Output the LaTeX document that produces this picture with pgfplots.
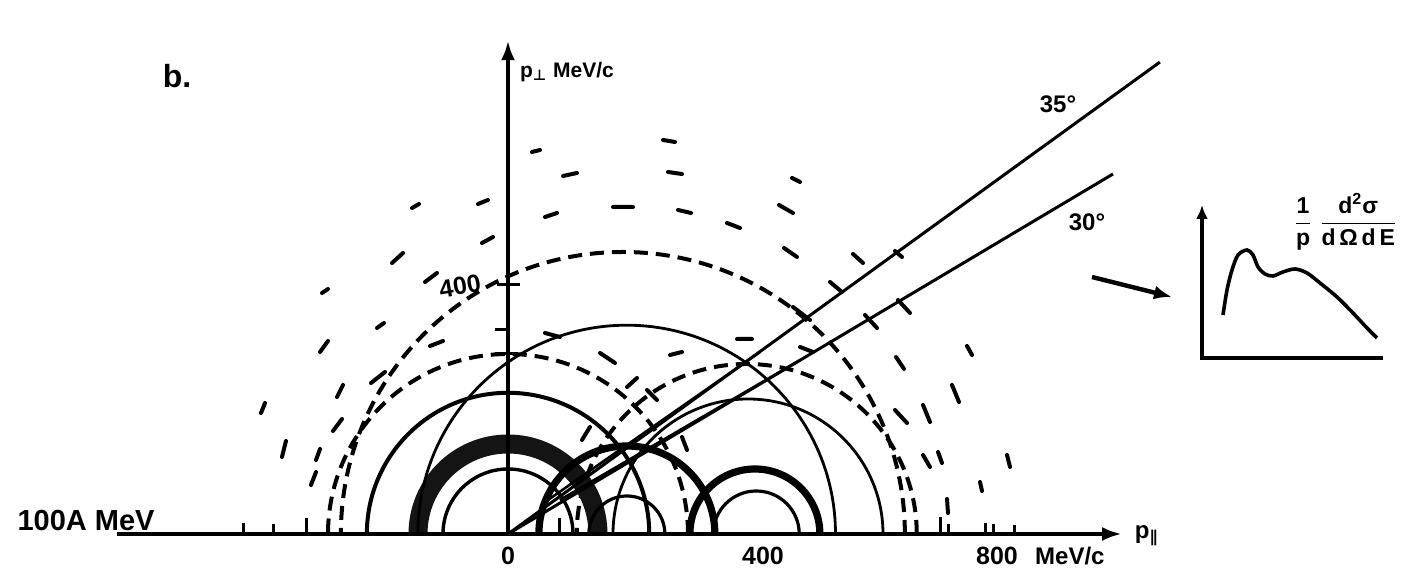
\documentclass[border=0pt]{standalone}
\usepackage{pgfplots}
\pgfplotsset{compat=1.18}
\usepackage{amsmath}
\usepackage{fontspec}
\setmainfont{Liberation Sans}
\newfontfamily\dejavu{DejaVu Sans}
\usetikzlibrary{arrows.meta}
\begin{document}
\begin{tikzpicture}
\begin{axis}[
  scale only axis, width=710.5pt, height=293.5pt,
  xmin=-812.8, xmax=1460.8, ymin=-84.8, ymax=854.4,
  axis lines=none, clip=false,
  unbounded coords=jump,
]
% --- dashed circles (centre on axis, radius): target 0/288, mid 184/451, projectile 382/272
\draw[line width=2pt, dash pattern=on 7pt off 4pt] (axis cs:288,0) arc[start angle=0,end angle=180,radius=90pt];
\draw[line width=2pt, dash pattern=on 7pt off 4pt] (axis cs:635,0) arc[start angle=0,end angle=180,radius=141pt];
\draw[line width=2pt, dash pattern=on 7pt off 4pt] (axis cs:654,0) arc[start angle=0,end angle=180,radius=85pt];
% --- target group (centre 0)
\draw[line width=1.7pt] (axis cs:104,0) arc[start angle=0,end angle=180,radius=32.5pt];
\draw[line width=9.5pt, black!92] (axis cs:144,0) arc[start angle=0,end angle=180,radius=45pt];
\draw[line width=2pt] (axis cs:226,0) arc[start angle=0,end angle=180,radius=70.6pt];
% --- middle group (centre 190)
\draw[line width=1.6pt] (axis cs:251,0) arc[start angle=0,end angle=180,radius=19pt];
\draw[line width=3.6pt] (axis cs:331,0) arc[start angle=0,end angle=180,radius=44pt];
\draw[line width=1.4pt] (axis cs:524,0) arc[start angle=0,end angle=180,radius=104.4pt];
% --- projectile group (centre ~390)
\draw[line width=1.6pt] (axis cs:466,0) arc[start angle=0,end angle=180,radius=21.5pt];
\draw[line width=3.6pt] (axis cs:499,0) arc[start angle=0,end angle=180,radius=32.5pt];
\draw[line width=1.4pt] (axis cs:600,0) arc[start angle=0,end angle=180,radius=67.5pt];
% --- angle lines
\addplot[line width=1.5pt] coordinates {(0,0) (1043,755)};
\addplot[line width=1.5pt] coordinates {(0,0) (968,576)};
\addplot[line width=1.3pt] coordinates {(64,54.4) (403,291)};
\addplot[line width=1.3pt] coordinates {(83,54.4) (467,278)};
% --- scattered dashes and marks
\addplot[line width=2pt, line cap=round] coordinates {
(38.4,611.2) (51.2,614.4) (nan,nan)
(248,630.4) (267.2,627.2) (nan,nan)
(88,572.8) (110.4,577.6) (nan,nan)
(256,579.2) (278.4,576) (nan,nan)
(454.4,569.6) (467.2,563.2) (nan,nan)
(-48,528) (-32,534.4) (nan,nan)
(168,523.2) (200,523.2) (nan,nan)
(272,518.4) (292.8,513.6) (nan,nan)
(433.6,526.4) (456,513.6) (nan,nan)
(59.2,507.2) (78.4,513.6) (nan,nan)
(350.4,497.6) (371.2,489.6) (nan,nan)
(-41.6,465.6) (-24,475.2) (nan,nan)
(441.6,457.6) (462.4,443.2) (nan,nan)
(552,448) (568,433.6) (nan,nan)
(-153.6,521.6) (-142.4,528) (nan,nan)
(-185.6,433.6) (-168,449.6) (nan,nan)
(-132.8,403.2) (-113.6,417.6) (nan,nan)
(-297.6,385.6) (-288,392) (nan,nan)
(-209.6,329.6) (-198.4,337.6) (nan,nan)
(-300.8,291.2) (-288,308.8) (nan,nan)
(-124.8,300.8) (-104,308.8) (nan,nan)
(-219.2,241.6) (-196.8,259.2) (nan,nan)
(-273.6,219.2) (-264,238.4) (nan,nan)
(-395.2,193.6) (-388.8,209.6) (nan,nan)
(-280,164.8) (-265.6,184) (nan,nan)
(-361.6,123.2) (-355.2,148.8) (nan,nan)
(-307.2,118.4) (-300.8,136) (nan,nan)
(-315.2,78.4) (-307.2,99.2) (nan,nan)
(620.8,283.2) (633.6,264) (nan,nan)
(734.4,300.8) (742.4,286.4) (nan,nan)
(710.4,238.4) (721.6,211.2) (nan,nan)
(664,206.4) (675.2,179.2) (nan,nan)
(619.2,198.4) (638.4,177.6) (nan,nan)
(664,126.4) (675.2,107.2) (nan,nan)
(688,131.2) (694.4,113.6) (nan,nan)
(798.4,126.4) (803.2,107.2) (nan,nan)
(755.2,83.2) (758.4,68.8) (nan,nan)
(702.4,56) (704,33.6) (nan,nan)
(59.2,321.6) (83.2,315.2) (nan,nan)
(147.2,289.6) (171.2,273.6) (nan,nan)
(259.2,286.4) (278.4,291.2) (nan,nan)
(366.4,312) (390.4,312) (nan,nan)
(467.2,299.2) (488,291.2) (nan,nan)
(190.4,235.2) (206.4,249.6) (nan,nan)
(222.4,230.4) (238.4,214.4) (nan,nan)
(118.4,150.4) (131.2,171.2) (nan,nan)
(278.4,155.2) (286.4,134.4) (nan,nan)
(515.2,403.2) (534.4,387.2) (nan,nan)
(619.2,452.8) (630.4,443.2) (nan,nan)
(624,374.4) (643.2,353.6) (nan,nan)
(571.2,350.4) (590.4,329.6) (nan,nan)
(456,363.2) (483.2,342.4)
};
% --- axis ticks
\addplot[line width=1.5pt] coordinates {
(-424,0) (-424,17.6) (nan,nan)
(-376,0) (-376,16) (nan,nan)
(-323.2,0) (-323.2,25.6) (nan,nan)
(81.6,0) (81.6,25.6) (nan,nan)
(691.2,0) (691.2,27.2) (nan,nan)
(704,0) (704,16) (nan,nan)
(763.2,0) (763.2,17.6) (nan,nan)
(776,0) (776,16) (nan,nan)
(809.6,0) (809.6,14.4) (nan,nan)
(-17.6,398.4) (19.2,398.4) (nan,nan)
(-20.8,326.4) (0,326.4) (nan,nan)
(-20.8,288) (11,288)
};
% --- main axes
\addplot[line width=2pt, -{Latex[length=10pt,width=7pt]}] coordinates {(-625.6,0) (982.4,0)};
\addplot[line width=2pt, -{Latex[length=10pt,width=7pt]}] coordinates {(0,0) (0,790)};
% --- arrow to inset
\addplot[line width=2.2pt, -{Latex[length=9pt,width=7pt]}] coordinates {(934.4,411.2) (1062.4,379.2)};
% --- inset
\addplot[line width=1.8pt, {Latex[length=7pt,width=6pt]}-] coordinates {(1110.4,526.4) (1110.4,281.6) (1400,281.6)};
\addplot[line width=1.8pt, smooth] coordinates {
(1144,350.4) (1150.4,390.4) (1158.4,422.4) (1168,446.4) (1182.4,454.4)
(1192,446.4) (1200,427.2) (1211.2,416) (1224,412.8) (1240,419.2)
(1259.2,424) (1278.4,417.6) (1299.2,401.6) (1326.4,379.2) (1352,353.6)
(1374.4,329.6) (1390.4,313.6)};
\node[font=\fontsize{11.5}{13}\selectfont] at (axis cs:1340,499.2)
  {$\dfrac{\textbf{1}}{\textbf{p}}\;\dfrac{\textbf{d\textsuperscript{2}σ}}{\textbf{d\,Ω\,d\,E}}$};
% --- labels
\node[font=\bfseries\fontsize{12.5}{14}\selectfont] at (axis cs:0,-35.2) {0};
\node[font=\bfseries\fontsize{12.5}{14}\selectfont] at (axis cs:408,-35.2) {400};
\node[font=\bfseries\fontsize{12.5}{14}\selectfont] at (axis cs:782.4,-35.2) {800};
\node[font=\bfseries\fontsize{12}{14}\selectfont] at (axis cs:899,-35.2) {MeV/c};
\node[font=\bfseries\fontsize{12.5}{14}\selectfont, rotate=10] at (axis cs:-76.8,396.8) {400};
\node[font=\bfseries\fontsize{10.5}{12}\selectfont] at (axis cs:94.4,739.2) {p\textsubscript{\dejavu\bfseries ⊥} MeV/c};
\node[font=\bfseries\fontsize{16}{18}\selectfont] at (axis cs:-529.6,732.8) {b.};
\node[font=\fontsize{14.5}{16}\selectfont\bfseries, anchor=base west] at (axis cs:-796,6) {100A MeV};
\node[font=\bfseries\fontsize{12}{14}\selectfont] at (axis cs:880,688) {35°};
\node[font=\bfseries\fontsize{12}{14}\selectfont] at (axis cs:926.4,499.2) {30°};
\node[font=\bfseries\fontsize{12}{14}\selectfont] at (axis cs:1022,-3) {p\textsubscript{\dejavu\bfseries ∥}};
\end{axis}
\pgfresetboundingbox
\path[use as bounding box] (0,0) rectangle (710.5pt,293.5pt);
\end{tikzpicture}
\end{document}
